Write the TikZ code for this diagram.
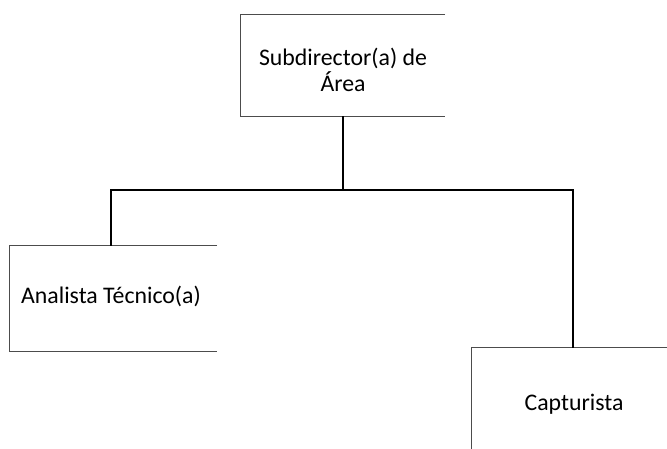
\documentclass[tikz,border=0pt]{standalone}
\usepackage{fontspec}
\setmainfont{Carlito}
\begin{document}
\begin{tikzpicture}[x=1pt,y=-1pt,
  boxline/.style={draw=black!70,line width=0.9pt},
  conn/.style={draw=black,line width=2.2pt},
  lbl/.style={font=\fontsize{23.8}{26}\selectfont,align=center,inner sep=0pt}]
\useasboundingbox (0,0) rectangle (667,449);
\fill[white] (0,0) rectangle (667,449);
% boxes (right side open, as in the reference)
\node[lbl,minimum width=204pt,minimum height=101pt] (top) at (343,65.5) {};
\node[lbl] (toptext) at (343,70) {Subdirector(a) de\\Área};
\node[lbl,minimum width=207pt,minimum height=105pt] (ana) at (113.5,298.5) {};
\node[lbl] (anatext) at (111,296) {Analista Técnico(a)};
\node[lbl,minimum width=195pt,minimum height=101pt] (cap) at (569.5,398.5) {};
\node[lbl] (captext) at (574,404) {Capturista};
\draw[boxline] (top.north east) -- (top.north west) -- (top.south west) -- (top.south east);
\draw[boxline] (ana.north east) -- (ana.north west) -- (ana.south west) -- (ana.south east);
\draw[boxline] (cap.north east) -- (cap.north west) -- (cap.south west);
% connectors
\coordinate (bus) at (343,190);
\coordinate (anaIn) at (111,246);
\coordinate (capIn) at (573,348);
\draw[conn] (top.south) -- (bus);
\draw[conn] (bus) -| (anaIn);
\draw[conn] (bus) -| (capIn);
\end{tikzpicture}
\end{document}
